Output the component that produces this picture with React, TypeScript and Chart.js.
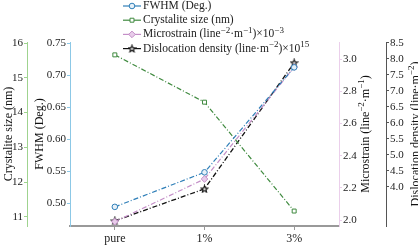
import React, { useEffect, useRef } from 'react';
import { Chart, registerables } from 'chart.js';
import { drawPoint } from 'chart.js/helpers';

Chart.register(...registerables);

const categories = ['pure', '1%', '3%'];
const fwhmValues = [0.494, 0.548, 0.712];
const crystalliteValues = [15.66, 14.3, 11.17];
const microstrainValues = [1.99, 2.255, 2.95];
const dislocationValues = [2.94, 3.94, 7.88];

const crystalliteTicks = [11, 12, 13, 14, 15, 16];
const fwhmTicks = [0.5, 0.55, 0.6, 0.65, 0.7, 0.75];
const microstrainTicks = [2.0, 2.2, 2.4, 2.6, 2.8, 3.0];
const dislocationTicks = [4.0, 4.5, 5.0, 5.5, 6.0, 6.5, 7.0, 7.5, 8.0, 8.5];

const seriesLabels = [
  'FWHM (Deg.)',
  'Crystalite size (nm)',
  'Microstrain (line⁻²·m⁻¹)×10⁻³',
  'Dislocation density (line·m⁻²)×10¹⁵',
];
const titleCrystallite = 'Crystalite size (nm)';
const titleFwhm = 'FWHM (Deg.)';
const titleMicrostrain = 'Microstrain (line⁻²·m⁻¹)';
const titleDislocation = 'Dislocation density (line·m⁻²)';

const SERIF = "'Liberation Serif', 'Times New Roman', serif";
const SUP: Record<string, string> = {
  '⁰': '0', '¹': '1', '²': '2', '³': '3', '⁴': '4', '⁵': '5', '⁶': '6', '⁷': '7', '⁸': '8', '⁹': '9', '⁻': '−',
};

function toRuns(text: string) {
  const out: { t: string; sup: boolean; w: number }[] = [];
  for (const ch of text) {
    const sup = ch in SUP;
    const c = sup ? SUP[ch] : ch;
    const last = out[out.length - 1];
    if (last && last.sup === sup) last.t += c;
    else out.push({ t: c, sup, w: 0 });
  }
  return out;
}

function drawRich(ctx: CanvasRenderingContext2D, text: string, x: number, y: number, size: number, center: boolean) {
  const rs = toRuns(text);
  const fN = `${size}px ${SERIF}`;
  const fS = `${Math.round(size * 0.75)}px ${SERIF}`;
  let total = 0;
  rs.forEach((r) => {
    ctx.font = r.sup ? fS : fN;
    r.w = ctx.measureText(r.t).width;
    total += r.w;
  });
  let cx = center ? x - total / 2 : x;
  ctx.textBaseline = 'middle';
  ctx.textAlign = 'left';
  rs.forEach((r) => {
    ctx.font = r.sup ? fS : fN;
    ctx.fillText(r.t, cx, r.sup ? y - size * 0.33 : y);
    cx += r.w;
  });
}

function makeStar() {
  const c = document.createElement('canvas');
  c.width = 9;
  c.height = 9;
  const g = c.getContext('2d')!;
  g.beginPath();
  for (let i = 0; i < 10; i++) {
    const r = i % 2 ? 1.5 : 3.6;
    const a = -Math.PI / 2 + (i * Math.PI) / 5;
    g.lineTo(4.5 + r * Math.cos(a), 4.8 + r * Math.sin(a));
  }
  g.closePath();
  g.fillStyle = '#dddddd';
  g.fill();
  g.strokeStyle = '#111111';
  g.lineWidth = 1.1;
  g.stroke();
  return c;
}

const extrasPlugin = {
  id: 'extras',
  afterDraw(chart: any) {
    const ctx: CanvasRenderingContext2D = chart.ctx;
    ctx.save();
    const drawVTitle = (scaleId: string, text: string, dx: number) => {
      const s = chart.scales[scaleId];
      const cy = (s.top + s.bottom) / 2;
      ctx.save();
      ctx.translate(s.left + dx, cy);
      ctx.rotate(-Math.PI / 2);
      ctx.fillStyle = '#111';
      drawRich(ctx, text, 0, 0, 12, true);
      ctx.restore();
    };
    drawVTitle('yM', titleMicrostrain, 27);
    drawVTitle('yD', titleDislocation, 30);

    chart.data.datasets.forEach((ds: any, i: number) => {
      const y = 6 + i * 14.2;
      const x0 = 123;
      const x1 = 141;
      ctx.strokeStyle = ds.borderColor;
      ctx.lineWidth = 1.2;
      ctx.setLineDash([]);
      ctx.beginPath();
      ctx.moveTo(x0, y);
      ctx.lineTo(x1, y);
      ctx.stroke();
      ctx.fillStyle = ds.pointBackgroundColor;
      ctx.strokeStyle = ds.borderColor;
      ctx.lineWidth = 1;
      drawPoint(ctx, { pointStyle: ds.pointStyle, radius: ds.pointRadius, rotation: 0, borderWidth: 1 } as any, (x0 + x1) / 2, y);
      ctx.fillStyle = '#222';
      drawRich(ctx, ds.label, 143, y, 11.5, false);
    });
    ctx.restore();
  },
};

export default function App() {
  const ref = useRef<HTMLCanvasElement>(null);
  useEffect(() => {
    document.body.style.margin = '0';
    const star = makeStar();
    const dash = [5, 2, 1, 2];
    const tickFont = { size: 11, family: SERIF };
    const titleFont = { size: 12, family: SERIF };
    const chart = new Chart(ref.current!, {
      type: 'line',
      data: {
        labels: categories,
        datasets: [
          {
            label: seriesLabels[0], data: fwhmValues, yAxisID: 'yF',
            borderColor: '#2f7fb8', backgroundColor: '#2f7fb8', pointBackgroundColor: '#e6f0f8',
            borderWidth: 1.2, borderDash: dash, pointStyle: 'circle', pointRadius: 2.8, pointBorderWidth: 1,
          },
          {
            label: seriesLabels[1], data: crystalliteValues, yAxisID: 'yC',
            borderColor: '#3f8a3f', backgroundColor: '#3f8a3f', pointBackgroundColor: '#ffffff',
            borderWidth: 1.2, borderDash: dash, pointStyle: 'rect', pointRadius: 2.8, pointBorderWidth: 1,
          },
          {
            label: seriesLabels[2], data: microstrainValues, yAxisID: 'yM',
            borderColor: '#c48fc8', backgroundColor: '#c48fc8', pointBackgroundColor: '#e8cdea',
            borderWidth: 1.2, borderDash: dash, pointStyle: 'rectRot', pointRadius: 3.3, pointBorderWidth: 1,
          },
          {
            label: seriesLabels[3], data: dislocationValues, yAxisID: 'yD',
            borderColor: '#111111', backgroundColor: '#111111', pointBackgroundColor: '#ffffff',
            borderWidth: 1.3, borderDash: dash, pointStyle: star as any, pointRadius: 4, pointBorderWidth: 1,
          },
        ],
      },
      options: {
        responsive: false,
        animation: false,
        layout: { padding: { top: 42, left: 0, right: 0, bottom: 0 } },
        plugins: { legend: { display: false }, tooltip: { enabled: false } },
        scales: {
          x: {
            type: 'category',
            offset: true,
            grid: { display: true, drawOnChartArea: false, drawTicks: true, tickLength: 4, color: '#999' },
            border: { color: '#999', width: 2 },
            ticks: { color: '#222', font: { size: 12, family: SERIF }, padding: 2 },
            afterFit: (s: any) => { s.height = 22; },
          },
          yC: {
            type: 'linear', position: 'left', weight: 2, min: 10.74, max: 16.03,
            afterBuildTicks: (s: any) => { s.ticks = crystalliteTicks.map((v) => ({ value: v })); },
            ticks: { callback: (v: any) => String(v), color: '#222', font: tickFont, padding: 1 },
            grid: { drawOnChartArea: false, tickLength: 3, color: '#9fd38f' },
            border: { color: '#9fd38f' },
            title: { display: true, text: titleCrystallite, font: titleFont, color: '#111', padding: { top: 2, bottom: 0 } },
            afterFit: (s: any) => { s.width = 27; },
          },
          yF: {
            type: 'linear', position: 'left', weight: 1, min: 0.4641, max: 0.7516,
            afterBuildTicks: (s: any) => { s.ticks = fwhmTicks.map((v) => ({ value: v })); },
            ticks: { callback: (v: any) => Number(v).toFixed(2), color: '#222', font: tickFont, padding: 1 },
            grid: { drawOnChartArea: false, tickLength: 3, color: '#8cc8e6' },
            border: { color: '#8cc8e6' },
            title: { display: true, text: titleFwhm, font: titleFont, color: '#111', padding: { top: 6, bottom: 0 } },
            afterFit: (s: any) => { s.width = 43; },
          },
          yM: {
            type: 'linear', position: 'right', weight: 1, min: 1.963, max: 3.106,
            afterBuildTicks: (s: any) => { s.ticks = microstrainTicks.map((v) => ({ value: v })); },
            ticks: { callback: (v: any) => Number(v).toFixed(1), color: '#222', font: tickFont, padding: 1 },
            grid: { drawOnChartArea: false, tickLength: 3, color: '#ebcfeb' },
            border: { color: '#ebcfeb' },
            title: { display: false },
            afterFit: (s: any) => { s.width = 47; },
          },
          yD: {
            type: 'linear', position: 'right', weight: 2, min: 2.78, max: 8.53,
            afterBuildTicks: (s: any) => { s.ticks = dislocationTicks.map((v) => ({ value: v })); },
            ticks: { callback: (v: any) => Number(v).toFixed(1), color: '#222', font: tickFont, padding: 1 },
            grid: { drawOnChartArea: false, tickLength: 3, color: '#555' },
            border: { color: '#555' },
            title: { display: false },
            afterFit: (s: any) => { s.width = 32; },
          },
        },
      } as any,
      plugins: [extrasPlugin],
    });
    return () => chart.destroy();
  }, []);
  return (
    <div style={{ width: 418, height: 248 }}>
      <canvas ref={ref} width={418} height={248} style={{ display: 'block' }} />
    </div>
  );
}
